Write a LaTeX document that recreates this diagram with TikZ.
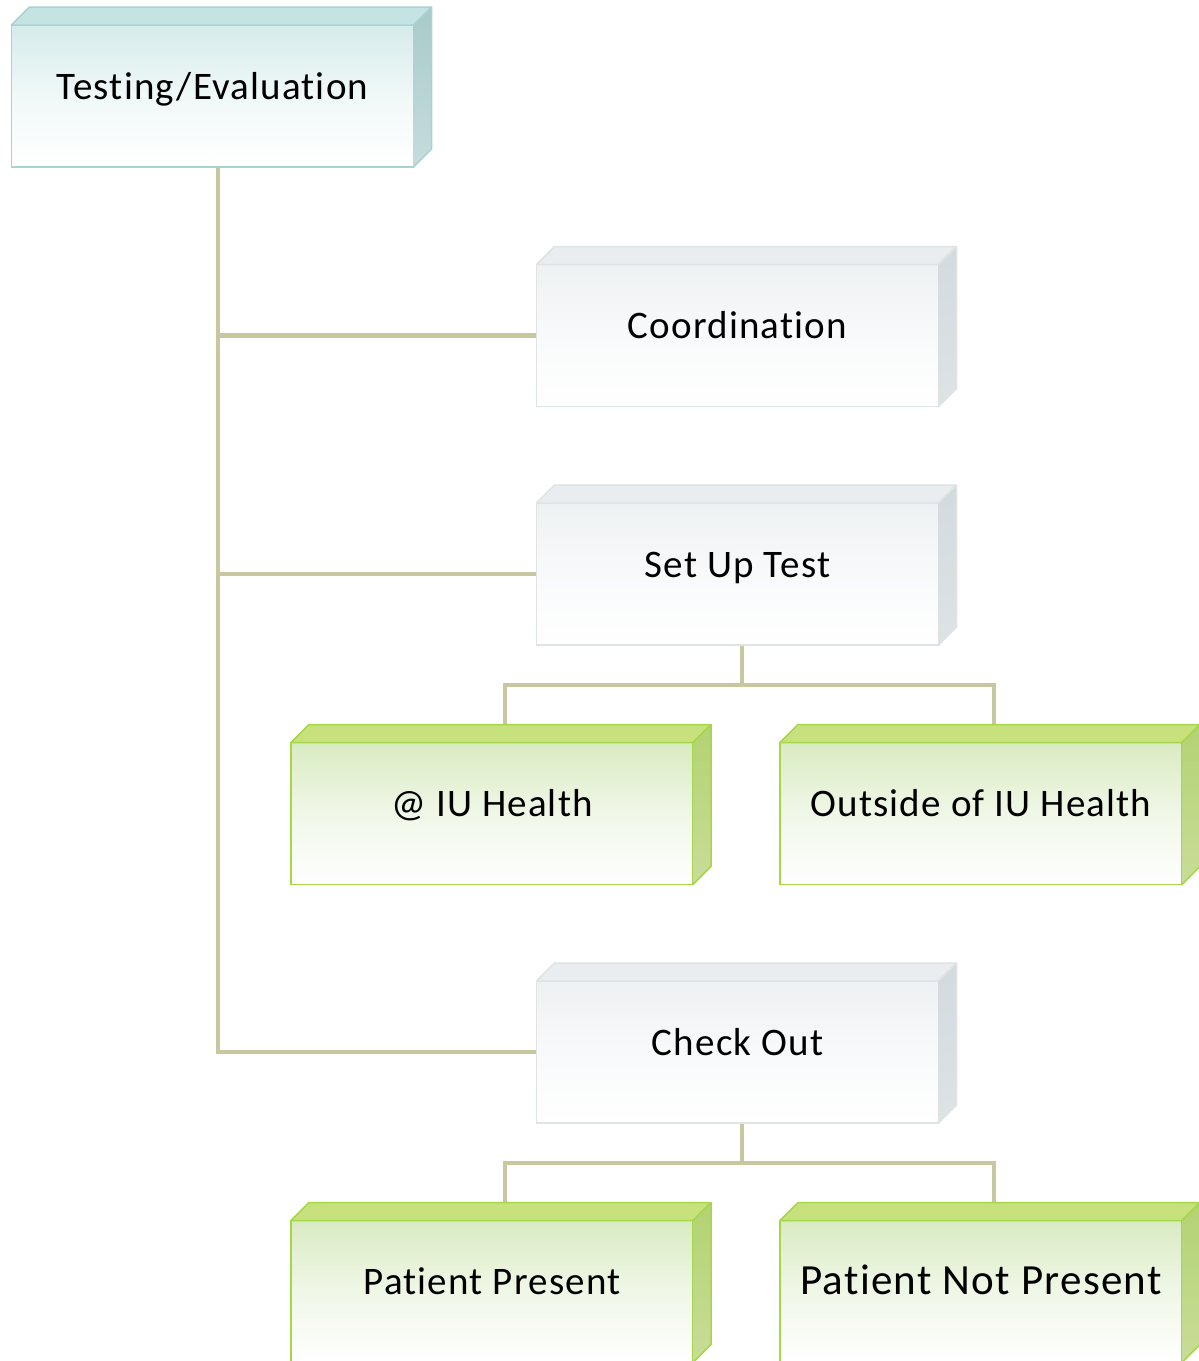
\documentclass[tikz,border=0pt]{standalone}
\usepackage{fontspec}
\setmainfont{Carlito}[LetterSpace=3, Ligatures=NoCommon]
\usetikzlibrary{calc,backgrounds}
\definecolor{linec}{HTML}{C9C7A0}
\definecolor{tealB}{HTML}{A9D3D3}
\definecolor{tealT}{HTML}{C5E3E3}
\definecolor{tealS1}{HTML}{A9CACA}
\definecolor{tealS2}{HTML}{C6DCDC}
\definecolor{tealF}{HTML}{D6EBEB}
\definecolor{grayB}{HTML}{DEE3E6}
\definecolor{grayT}{HTML}{E9EDEF}
\definecolor{grayS1}{HTML}{D3DADD}
\definecolor{grayS2}{HTML}{DEE3E5}
\definecolor{grayF}{HTML}{EEF1F3}
\definecolor{grnB}{HTML}{A6D64A}
\definecolor{grnT}{HTML}{C7E27C}
\definecolor{grnS1}{HTML}{B3D273}
\definecolor{grnS2}{HTML}{C8DD98}
\definecolor{grnF}{HTML}{D9EBC2}
\tikzset{
  face/.style={rectangle, outer sep=0pt, inner sep=0pt, line width=1.5pt,
    minimum width=402pt, minimum height=142pt,
    font=\fontsize{39}{46}\selectfont},
  tealbox/.style={face, draw=tealB, top color=tealF, bottom color=white, middle color=tealF!35!white},
  graybox/.style={face, draw=grayB, top color=grayF, bottom color=white, middle color=grayF!40!white},
  grnbox/.style={face, draw=grnB, top color=grnF, bottom color=white, middle color=grnF!40!white},
  conn/.style={draw=linec, line width=4.5pt},
}
\newcommand{\boxfaces}[6]{% node, border, top, side1, side2
  \filldraw[draw=#2, fill=#3, line width=1.5pt, line join=round]
    (#1.north west) -- ++(18,-18) -- ($(#1.north east)+(18,-18)$) -- (#1.north east) -- cycle;
  \shade[top color=#4, bottom color=#5]
    (#1.north east) -- ++(18,-18) -- ($(#1.south east)+(18,-18)$) -- (#1.south east) -- cycle;
  \draw[draw=#2, line width=1.5pt, line join=round]
    (#1.north east) -- ++(18,-18) -- ($(#1.south east)+(18,-18)$) -- (#1.south east);
}
\begin{document}
\begin{tikzpicture}[x=1pt,y=-1pt]
\useasboundingbox (0,0) rectangle (1199,1361);
% nodes (front faces)
\node[tealbox] (top) at (212.5,96) {\raisebox{-3pt}[0pt][0pt]{Testing/Evaluation}};
\node[graybox] (coord) at (737.5,335.5) {\raisebox{-3pt}[0pt][0pt]{Coordination}};
\node[graybox] (setup) at (737.5,574) {\raisebox{-3pt}[0pt][0pt]{Set Up Test}};
\node[grnbox] (iu) at (492,813.5) {\raisebox{-3pt}[0pt][0pt]{@ IU Health}};
\node[grnbox] (out) at (981,813.5) {\raisebox{-3pt}[0pt][0pt]{Outside of IU Health}};
\node[graybox] (check) at (737.5,1052) {\raisebox{-3pt}[0pt][0pt]{Check Out}};
\node[grnbox] (pp) at (492,1291.5) {\raisebox{-3pt}[0pt][0pt]{Patient Present}};
\node[grnbox, font=\fontsize{43}{50}\selectfont] (pnp) at (981,1291.5) {\raisebox{-3pt}[0pt][0pt]{Patient Not Present}};
% 3D faces
\boxfaces{top}{tealB}{tealT}{tealS1}{tealS2}{}
\boxfaces{coord}{grayB}{grayT}{grayS1}{grayS2}{}
\boxfaces{setup}{grayB}{grayT}{grayS1}{grayS2}{}
\boxfaces{iu}{grnB}{grnT}{grnS1}{grnS2}{}
\boxfaces{out}{grnB}{grnT}{grnS1}{grnS2}{}
\boxfaces{check}{grayB}{grayT}{grayS1}{grayS2}{}
\boxfaces{pp}{grnB}{grnT}{grnS1}{grnS2}{}
\boxfaces{pnp}{grnB}{grnT}{grnS1}{grnS2}{}
% connectors
\begin{pgfonlayer}{background}
\draw[conn] ($(top.south)+(5.5,0)$) |- (coord.west);
\draw[conn] ($(top.south)+(5.5,0)$) |- (setup.west);
\draw[conn] ($(top.south)+(5.5,0)$) |- (check.west);
\draw[conn] ($(setup.south)+(4.5,0)$) -- ++(0,40) -| ($(iu.north)+(13,-18)$);
\draw[conn] ($(setup.south)+(4.5,0)$) -- ++(0,40) -| ($(out.north)+(13,-18)$);
\draw[conn] ($(check.south)+(4.5,0)$) -- ++(0,40) -| ($(pp.north)+(13,-18)$);
\draw[conn] ($(check.south)+(4.5,0)$) -- ++(0,40) -| ($(pnp.north)+(13,-18)$);
\end{pgfonlayer}
\end{tikzpicture}
\end{document}
